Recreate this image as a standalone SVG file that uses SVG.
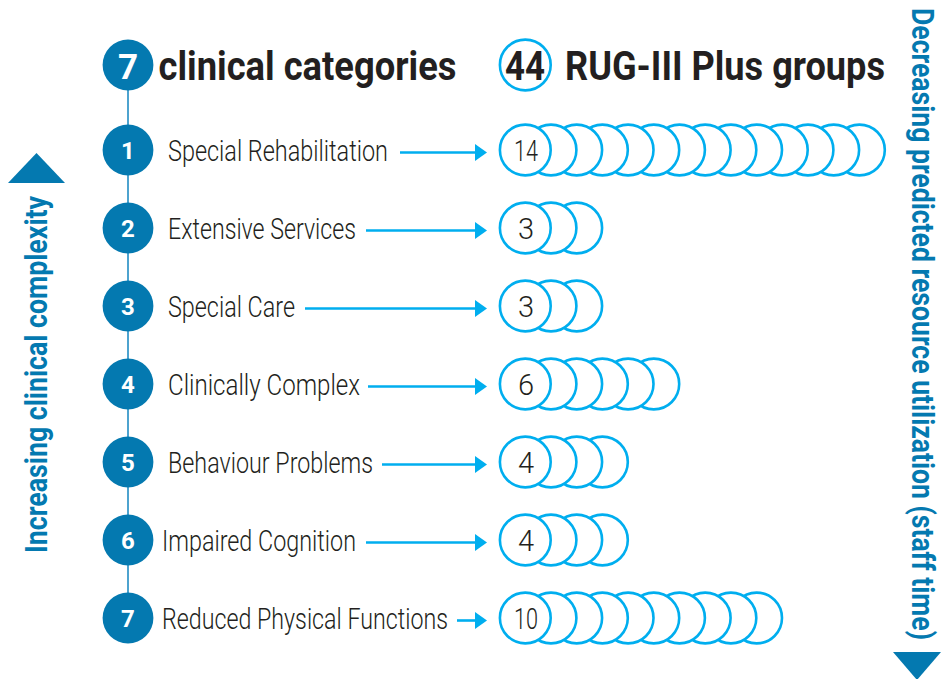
<svg xmlns="http://www.w3.org/2000/svg" width="942" height="679" viewBox="0 0 942 679">
<defs>
<style>
.dk{fill:#0479b0}
.num{font-family:Roboto,"Liberation Sans",sans-serif;font-weight:700;fill:#fff;text-anchor:middle}
.lbl{font-family:Roboto,"Liberation Sans",sans-serif;font-weight:300;font-size:30px;fill:#231f20}
.cnt{font-family:Roboto,"Liberation Sans",sans-serif;font-weight:300;font-size:29px;fill:#231f20;text-anchor:middle}
.hd{font-family:Roboto,"Liberation Sans",sans-serif;font-weight:700;font-size:40px;fill:#231f20}
.vt{font-family:Roboto,"Liberation Sans",sans-serif;font-weight:700;font-size:31px;fill:#0479b0}
.lc{fill:#fff;stroke:#00aeef;stroke-width:2.6}
.ar{stroke:#00aeef;stroke-width:2.6;fill:none}
</style>
<marker id="ah" markerUnits="userSpaceOnUse" markerWidth="13" markerHeight="17" viewBox="0 0 13 17" refX="3" refY="8.5" orient="auto">
<path d="M0,0 L12,8.5 L0,17 z" fill="#00aeef"/>
</marker>
<circle id="c" r="25.4" class="lc"/>
</defs>

<g id="spine">
<line x1="128" y1="65" x2="128" y2="618" stroke="#4da3cf" stroke-width="2"/>
</g>

<g id="side-left">
<polygon points="8,183 65,183 36.5,153" class="dk"/>
<text class="vt" transform="translate(47,553) rotate(-90)" textLength="357" lengthAdjust="spacingAndGlyphs">Increasing clinical complexity</text>
</g>

<g id="side-right">
<text class="vt" transform="translate(912,8) rotate(90)" textLength="632" lengthAdjust="spacingAndGlyphs">Decreasing predicted resource utilization (staff time)</text>
<polygon points="893,652 941,652 917,680" class="dk"/>
</g>

<g id="header-left">
<circle cx="128" cy="65" r="25.4" class="dk"/>
<text class="num" x="128" y="79" font-size="35">7</text>
<text class="hd" x="158.5" y="80" textLength="298" lengthAdjust="spacingAndGlyphs">clinical categories</text>
</g>

<g id="header-right">
<circle cx="525.3" cy="65" r="25.4" class="lc"/>
<text class="hd" x="525" y="80" text-anchor="middle" font-size="39" textLength="40" lengthAdjust="spacingAndGlyphs">44</text>
<text class="hd" x="565" y="80" font-size="39" textLength="320" lengthAdjust="spacingAndGlyphs">RUG-III Plus groups</text>
</g>

<g id="connectors">
<line class="ar" x1="400" y1="152.5" x2="478" y2="152.5" marker-end="url(#ah)"/>
<line class="ar" x1="366" y1="230.5" x2="478" y2="230.5" marker-end="url(#ah)"/>
<line class="ar" x1="305" y1="308.5" x2="478" y2="308.5" marker-end="url(#ah)"/>
<line class="ar" x1="368" y1="386.5" x2="478" y2="386.5" marker-end="url(#ah)"/>
<line class="ar" x1="382" y1="464.5" x2="478" y2="464.5" marker-end="url(#ah)"/>
<line class="ar" x1="366" y1="542.5" x2="478" y2="542.5" marker-end="url(#ah)"/>
<line class="ar" x1="457" y1="620.5" x2="478" y2="620.5" marker-end="url(#ah)"/>
</g>

<g id="cat1">
<circle cx="128" cy="150" r="25.4" class="dk"/>
<text class="num" x="128" y="159" font-size="24">1</text>
<text class="lbl" x="168" y="160.5" textLength="220" lengthAdjust="spacingAndGlyphs">Special Rehabilitation</text>
</g>
<g id="groups1">
<use href="#c" x="859.4" y="150"/><use href="#c" x="833.7" y="150"/><use href="#c" x="808" y="150"/><use href="#c" x="782.3" y="150"/><use href="#c" x="756.6" y="150"/><use href="#c" x="730.9" y="150"/><use href="#c" x="705.2" y="150"/><use href="#c" x="679.5" y="150"/><use href="#c" x="653.8" y="150"/><use href="#c" x="628.1" y="150"/><use href="#c" x="602.4" y="150"/><use href="#c" x="576.7" y="150"/><use href="#c" x="551" y="150"/><use href="#c" x="525.3" y="150"/>
<text class="cnt" x="526" y="160.5" textLength="24" lengthAdjust="spacingAndGlyphs">14</text>
</g>

<g id="cat2">
<circle cx="128" cy="228" r="25.4" class="dk"/>
<text class="num" x="128" y="237" font-size="24">2</text>
<text class="lbl" x="168" y="238.5" textLength="188" lengthAdjust="spacingAndGlyphs">Extensive Services</text>
</g>
<g id="groups2">
<use href="#c" x="576.7" y="228"/><use href="#c" x="551" y="228"/><use href="#c" x="525.3" y="228"/>
<text class="cnt" x="526" y="238.5">3</text>
</g>

<g id="cat3">
<circle cx="128" cy="306" r="25.4" class="dk"/>
<text class="num" x="128" y="315" font-size="24">3</text>
<text class="lbl" x="168" y="316.5" textLength="127" lengthAdjust="spacingAndGlyphs">Special Care</text>
</g>
<g id="groups3">
<use href="#c" x="576.7" y="306"/><use href="#c" x="551" y="306"/><use href="#c" x="525.3" y="306"/>
<text class="cnt" x="526" y="316.5">3</text>
</g>

<g id="cat4">
<circle cx="128" cy="384" r="25.4" class="dk"/>
<text class="num" x="128" y="393" font-size="24">4</text>
<text class="lbl" x="168" y="394.5" textLength="192" lengthAdjust="spacingAndGlyphs">Clinically Complex</text>
</g>
<g id="groups4">
<use href="#c" x="653.8" y="384"/><use href="#c" x="628.1" y="384"/><use href="#c" x="602.4" y="384"/><use href="#c" x="576.7" y="384"/><use href="#c" x="551" y="384"/><use href="#c" x="525.3" y="384"/>
<text class="cnt" x="526" y="394.5">6</text>
</g>

<g id="cat5">
<circle cx="128" cy="462" r="25.4" class="dk"/>
<text class="num" x="128" y="471" font-size="24">5</text>
<text class="lbl" x="168" y="472.5" textLength="205" lengthAdjust="spacingAndGlyphs">Behaviour Problems</text>
</g>
<g id="groups5">
<use href="#c" x="602.4" y="462"/><use href="#c" x="576.7" y="462"/><use href="#c" x="551" y="462"/><use href="#c" x="525.3" y="462"/>
<text class="cnt" x="526" y="472.5">4</text>
</g>

<g id="cat6">
<circle cx="128" cy="540" r="25.4" class="dk"/>
<text class="num" x="128" y="549" font-size="24">6</text>
<text class="lbl" x="162" y="550.5" textLength="194" lengthAdjust="spacingAndGlyphs">Impaired Cognition</text>
</g>
<g id="groups6">
<use href="#c" x="602.4" y="540"/><use href="#c" x="576.7" y="540"/><use href="#c" x="551" y="540"/><use href="#c" x="525.3" y="540"/>
<text class="cnt" x="526" y="550.5">4</text>
</g>

<g id="cat7">
<circle cx="128" cy="618" r="25.4" class="dk"/>
<text class="num" x="128" y="627" font-size="24">7</text>
<text class="lbl" x="162" y="628.5" textLength="286" lengthAdjust="spacingAndGlyphs">Reduced Physical Functions</text>
</g>
<g id="groups7">
<use href="#c" x="756.6" y="618"/><use href="#c" x="730.9" y="618"/><use href="#c" x="705.2" y="618"/><use href="#c" x="679.5" y="618"/><use href="#c" x="653.8" y="618"/><use href="#c" x="628.1" y="618"/><use href="#c" x="602.4" y="618"/><use href="#c" x="576.7" y="618"/><use href="#c" x="551" y="618"/><use href="#c" x="525.3" y="618"/>
<text class="cnt" x="526" y="628.5" textLength="24" lengthAdjust="spacingAndGlyphs">10</text>
</g>
</svg>
